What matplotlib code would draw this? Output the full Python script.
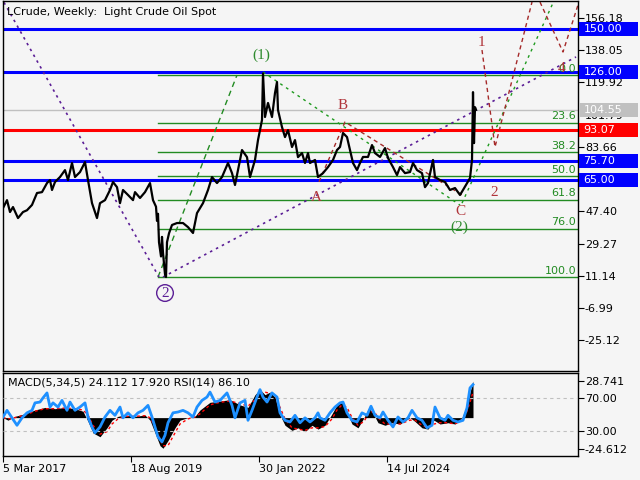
import matplotlib.pyplot as plt
from matplotlib.patches import Rectangle

# weekly bars counted from 5 Mar 2017
price_week = [0, 4, 7, 10, 15, 20, 24, 29, 34, 39, 44, 47, 49, 52, 57, 62, 65, 69, 72, 77,
              82, 85, 89, 94, 97, 102, 107, 110, 114, 117, 120, 125, 130, 132, 137, 142, 147, 150, 153, 154,
              155, 156, 158, 159, 160, 162, 163, 164, 166, 169, 174, 180, 185, 190, 194, 200, 205, 209, 214, 219,
              225, 229, 232, 235, 239, 244, 247, 252, 255, 259, 260, 262, 265, 269, 272, 274, 275, 279, 282, 285,
              289, 292, 295, 299, 302, 305, 307, 312, 315, 320, 325, 330, 334, 337, 340, 344, 347, 350, 354, 357,
              360, 365, 369, 372, 377, 382, 385, 390, 394, 397, 402, 407, 410, 414, 419, 422, 425, 430, 432, 437,
              442, 447, 452, 457, 460, 464, 467, 469, 470, 471, 472, 473]
price = [49.2, 53.7, 47.0, 49.8, 43.6, 47.0, 48.0, 51.0, 57.7, 58.2, 63.3, 65.0, 59.4, 63.9, 66.7, 70.6, 65.0, 74.6, 66.7, 69.5,
         75.1, 65.0, 52.0, 43.6, 52.0, 53.7, 59.4, 63.9, 61.0, 52.0, 59.4, 56.6, 53.7, 58.2, 54.9, 58.2, 63.3, 53.7, 50.0, 42.0,
         46.0, 30.0, 22.0, 33.0, 24.0, 12.0, 10.4, 30.0, 35.0, 39.7, 40.8, 40.8, 38.5, 35.2, 46.4, 52.0, 59.4, 66.7, 63.3, 66.7,
         74.6, 68.9, 62.2, 70.6, 81.9, 77.9, 66.7, 76.3, 87.5, 98.8, 125.0, 100.5, 108.4, 100.5, 114.0, 120.2, 104.4, 94.8, 89.2, 93.1,
         83.6, 87.5, 77.9, 80.2, 74.6, 80.2, 74.6, 76.3, 66.7, 68.9, 72.3, 76.3, 81.9, 83.6, 91.5, 89.2, 81.9, 74.6, 70.6, 74.6,
         78.0, 78.0, 84.7, 80.2, 78.0, 83.0, 77.4, 72.3, 67.8, 72.3, 68.9, 69.5, 74.6, 70.6, 68.9, 61.0, 63.3, 76.3, 66.7, 65.0,
         63.9, 59.4, 60.5, 56.6, 59.4, 63.3, 66.1, 76.3, 114.5, 85.8, 106.0, 104.5]

rsi_week = [0, 4, 9, 14, 19, 24, 29, 32, 37, 40, 44, 47, 50, 55, 59, 64, 67, 72, 77, 82,
            85, 89, 92, 97, 102, 107, 112, 117, 120, 125, 130, 135, 140, 145, 149, 152, 155, 159, 162, 165,
            170, 175, 180, 185, 190, 194, 199, 204, 207, 212, 217, 224, 229, 232, 237, 242, 245, 249, 254, 257,
            260, 264, 269, 274, 277, 282, 287, 292, 297, 302, 307, 312, 315, 317, 322, 327, 332, 337, 340, 344,
            349, 354, 359, 364, 368, 372, 377, 380, 385, 390, 395, 400, 405, 409, 414, 419, 424, 429, 432, 437,
            442, 445, 450, 455, 460, 464, 467, 470]
rsi = [47, 55, 46, 37, 46, 52, 55, 64, 65, 70, 76, 59, 64, 59, 67, 55, 65, 55, 59, 64,
       47, 35, 28, 35, 47, 55, 49, 59, 46, 52, 46, 52, 55, 61, 47, 35, 23, 17, 25, 40,
       52, 53, 55, 52, 47, 59, 67, 71, 77, 65, 67, 76, 61, 46, 64, 67, 43, 55, 71, 80,
       71, 65, 76, 71, 52, 43, 41, 49, 40, 46, 41, 46, 52, 46, 43, 52, 59, 64, 65, 52,
       43, 41, 52, 49, 60, 49, 46, 53, 43, 35, 47, 41, 46, 55, 46, 43, 34, 37, 59, 46,
       43, 49, 43, 41, 43, 58, 82, 86]

macd_week = [0, 5, 12, 22, 32, 42, 52, 62, 72, 80, 85, 90, 97, 104, 109, 115, 122, 132, 142, 147,
             152, 157, 160, 165, 172, 177, 185, 192, 197, 207, 217, 227, 237, 245, 252, 257, 262, 267, 272, 277,
             282, 289, 295, 302, 309, 315, 322, 329, 334, 339, 344, 349, 355, 361, 366, 371, 375, 382, 389, 397,
             407, 412, 419, 425, 431, 437, 445, 452, 459, 463, 467, 470]
macd_main = [0, -2, 1, 3, 6, 8, 7, 8, 7, 5, -3, -12, -15, -8, -2, 1, 2, 1, 2, -2,
             -12, -22, -24, -18, -8, -2, 0, 1, 6, 12, 13, 14, 10, 8, 18, 22, 18, 20, 16, 2,
             -6, -10, -8, -11, -6, -9, -6, 3, 10, 12, 4, -5, -8, 0, 8, 2, -4, -6, -4, -5,
             0, -3, -8, -9, -2, -5, -4, -5, 0, 8, 20, 28.7]
macd_signal = [0, -1, 0, 2, 5, 7, 7, 7.5, 7, 6, 2, -6, -13, -11, -5, -1, 1, 1, 1.5, 0,
               -7, -17, -22, -22, -12, -5, -1, 0.5, 3, 10, 12, 13, 11, 9, 14, 19, 20, 19, 18, 8,
               -1, -8, -9, -10, -8, -8, -7, -1, 6, 10, 8, 0, -6, -3, 4, 5, 0, -5, -5, -5,
               -2, -2, -6, -8, -5, -4, -4, -5, -2, 3, 12, 20]

date_ticks = [0, 128, 256, 384]
date_labels = ["5 Mar 2017", "18 Aug 2019", "30 Jan 2022", "14 Jul 2024"]
price_ticks = [156.18, 138.05, 119.92, 101.79, 83.66, 65.54, 47.40, 29.27, 11.14, -6.99, -25.12]

levels = [150.00, 126.00, 104.55, 93.07, 75.70, 65.00]
level_colors = ["#0000FF", "#0000FF", "#C0C0C0", "#FF0000", "#0000FF", "#0000FF"]
level_widths = [2.2, 2.2, 1.0, 2.2, 2.2, 2.2]

fib_points = [(155, 10.4), (234, 124.1)]  # (week, price) of 100% and 0%
fib_levels = [0.0, 23.6, 38.2, 50.0, 61.8, 76.0, 100.0]

purple_lines = [[(1, 165.0), (156, 10.4)], [(160, 10.4), (573, 134.3)]]
green_lines = [[(260, 125.8), (457, 50.9)], [(459, 52.0), (550, 164.7)]]
brown_lines = [[(316, 64.0), (342, 97.7), (459, 56.6)],
               [(479, 138.2), (492, 83.6), (529, 165.2)],
               [(537, 165.2), (560, 137.1), (575, 163.6)]]

GREEN = "#2E8B2E"
BROWN = "#B0343A"
PURPLE = "#5B1E96"
wave_labels = [("(1)", 258, 135.4, GREEN), ("B", 340, 107.2, BROWN), ("A", 313, 55.4, BROWN),
               ("C", 457, 47.5, BROWN), ("(2)", 456, 38.5, GREEN), ("1", 478, 142.7, BROWN),
               ("2", 491, 58.2, BROWN), ("4", 559, 128.0, BROWN)]

BG = "#F5F5F5"
W, H = 640, 480


def px_rect(x0, y0, x1, y1):
	return [x0 / W, 1 - y1 / H, (x1 - x0) / W, (y1 - y0) / H]


def style_axes(ax):
	ax.set_facecolor(BG)
	for s in ax.spines.values():
		s.set_color("black")
		s.set_linewidth(1)


def main():
	plt.rcParams['font.family'] = ['DejaVu Sans']
	fig = plt.figure(figsize=(6.4, 4.8), dpi=100, facecolor=BG)

	ax = fig.add_axes(px_rect(2.5, 1, 578, 371))
	style_axes(ax)
	ax.set_xlim(-0.5, 575)
	ax.set_ylim(-42.5, 165.8)

	for lv, c, lw in zip(levels, level_colors, level_widths):
		ax.axhline(lv, color=c, lw=lw, zorder=1)

	# fibonacci retracement
	(x0, p0), (x1, p1) = fib_points
	for f in fib_levels:
		lp = p1 - f / 100 * (p1 - p0)
		ax.plot([x0, 575], [lp, lp], color="#228B22", lw=1, zorder=1.5)
		ax.annotate("%.1f" % f, xy=(0.997, lp), xycoords=ax.get_yaxis_transform(),
		            xytext=(0, 1), textcoords="offset points", ha="right", va="bottom",
		            fontsize=8, color="#228B22")
	ax.plot([x0, x1], [p0, p1], color="#228B22", lw=1, ls=(0, (4, 3)))

	for seg in purple_lines:
		xs, ys = zip(*seg)
		ax.plot(xs, ys, color=PURPLE, lw=1.2, ls=(0, (1.5, 2.5)))
	for seg in green_lines:
		xs, ys = zip(*seg)
		ax.plot(xs, ys, color="#1F9A1F", lw=1, ls=(0, (2, 3)))
	for seg in brown_lines:
		xs, ys = zip(*seg)
		ax.plot(xs, ys, color="#A52A2A", lw=1, ls=(0, (3, 2.5)))

	ax.plot(price_week, price, color="black", lw=1.6, zorder=3)

	for t, x, y, c in wave_labels:
		ax.text(x, y, t, color=c, fontsize=11, family="Liberation Serif",
		        ha="center", va="center", zorder=4)
	ax.text(162, 1.4, "2", color=PURPLE, fontsize=11, family="Liberation Serif",
	        ha="center", va="center",
	        bbox=dict(boxstyle="circle,pad=0.12", fc="none", ec=PURPLE, lw=1))

	ax.yaxis.tick_right()
	ax.set_yticks(price_ticks)
	ax.set_yticklabels(["%.2f" % v for v in price_ticks])
	ax.tick_params(axis="y", direction="out", length=4, pad=1, labelsize=8, colors="black")
	ax.tick_params(axis="x", bottom=False, labelbottom=False)

	for lv, c in zip(levels, level_colors):
		ax.add_patch(Rectangle((1.001, lv - 4.0), 0.103, 8.0, transform=ax.get_yaxis_transform(),
		                       fc=c, ec="none", clip_on=False, zorder=5))
		ax.annotate("%.2f" % lv, xy=(1.0, lv), xycoords=ax.get_yaxis_transform(),
		            xytext=(4, 0), textcoords="offset points", ha="left", va="center",
		            fontsize=8, color="white", zorder=6, annotation_clip=False)

	fig.text(7 / W, 1 - 12 / H, "LCrude, Weekly:  Light Crude Oil Spot", fontsize=8, va="center")

	# MACD + RSI window
	axm = fig.add_axes(px_rect(2.5, 373, 578, 456))
	style_axes(axm)
	axm.set_xlim(-0.5, 575)
	axm.set_ylim(-30.1, 35.0)
	axm.fill_between(macd_week, 0, macd_main, color="black", lw=0)
	axm.plot(macd_week, macd_signal, color="#FF0000", lw=1, ls=(0, (2, 2)))
	axm.set_xticks(date_ticks)
	axm.set_xticklabels(date_labels, ha="left")
	axm.tick_params(axis="x", direction="out", length=4, pad=2, labelsize=8)

	axr = axm.twinx()
	axr.set_ylim(0, 100)
	axr.axhline(70, color="#C0C0C0", lw=0.8, ls=(0, (3, 3)))
	axr.axhline(30, color="#C0C0C0", lw=0.8, ls=(0, (3, 3)))
	axr.plot(rsi_week, rsi, color="#1E90FF", lw=2)
	axr.set_yticks([70, 30])
	axr.set_yticklabels(["70.00", "30.00"])
	axr.tick_params(axis="y", direction="out", length=4, pad=1, labelsize=8)
	for s in axr.spines.values():
		s.set_visible(False)

	# twinx moves the MACD ticks to the left, put them back on the right
	axm.yaxis.tick_right()
	axm.set_yticks([28.741, -24.612])
	axm.set_yticklabels(["28.741", "-24.612"])
	axm.tick_params(axis="y", direction="out", length=4, pad=1, labelsize=8)

	axm.text(5 / 575.5, 0.88, "MACD(5,34,5) 24.112 17.920 RSI(14) 86.10", transform=axm.transAxes,
	         fontsize=8, va="center", zorder=10)

	fig.savefig("out.png", dpi=100, facecolor=BG)


if __name__ == "__main__":
	main()
